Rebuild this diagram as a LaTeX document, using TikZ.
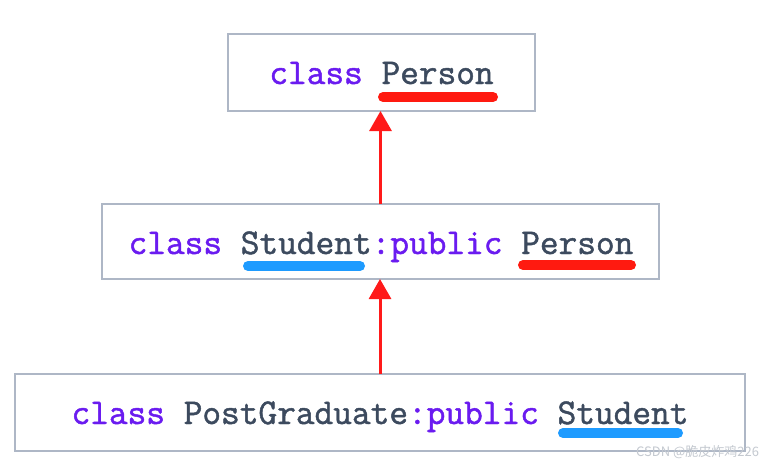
\documentclass[tikz,border=0pt]{standalone}
\usepackage{fontspec}
\usetikzlibrary{arrows.meta}
\newfontfamily\codefont[FakeBold=1.3]{Latin Modern Mono}
\newfontfamily\cjkfont{Noto Sans CJK SC}
\definecolor{kw}{HTML}{6A1BF0}
\definecolor{idc}{HTML}{3C4A5E}
\definecolor{boxc}{HTML}{AEB7C6}
\definecolor{redl}{HTML}{FF1A10}
\definecolor{bluel}{HTML}{1E9BFF}
\definecolor{arrc}{HTML}{FF1A1A}
\definecolor{wm}{HTML}{C4C9D0}
\begin{document}
\begin{tikzpicture}[x=1pt,y=-1pt,
  classbox/.style={draw=boxc, line width=2pt, fill=white, inner sep=0pt, outer sep=0pt},
  code/.style={anchor=base, inner sep=0pt, font=\codefont\fontsize{36.3}{40}\selectfont},
  uline/.style={line width=10pt, line cap=round},
  arr/.style={draw=arrc, line width=3pt, -{Triangle[length=20pt,width=22pt]}}]
\useasboundingbox[fill=white] (0,0) rectangle (783,467);
\node[classbox, minimum width=307pt, minimum height=77pt] (b1) at (381.5,72.5) {};
\node[classbox, minimum width=557pt, minimum height=75pt] (b2) at (380.5,241.5) {};
\node[classbox, minimum width=730pt, minimum height=77pt] (b3) at (380,412.5) {};
\node[code] (t1) at (381.5,84) {\color{kw}class \color{idc}Person};
\node[code] (t2) at (381,254) {\color{kw}class \color{idc}Student\color{kw}:public \color{idc}Person};
\node[code] (t3) at (380,424) {\color{kw}class \color{idc}PostGraduate\color{kw}:public \color{idc}Student};
\coordinate (u1a) at (383,97); \coordinate (u1b) at (493,97);
\coordinate (u2a) at (248,266); \coordinate (u2b) at (360,266);
\coordinate (u2c) at (523,265); \coordinate (u2d) at (631,265);
\coordinate (u3a) at (563,433); \coordinate (u3b) at (678,433);
\draw[uline, redl] (u1a) -- (u1b);
\draw[uline, bluel] (u2a) -- (u2b);
\draw[uline, redl] (u2c) -- (u2d);
\draw[uline, bluel] (u3a) -- (u3b);
\draw[arr] (b2.north) -- (b2.north |- b1.south);
\draw[arr] (b3.north) -- (b3.north |- b2.south);
\node[anchor=west, inner sep=0pt, text=wm, font=\cjkfont\fontsize{13}{15}\selectfont] (wmk) at (636,452) {CSDN @脆皮炸鸡226};
\end{tikzpicture}
\end{document}
